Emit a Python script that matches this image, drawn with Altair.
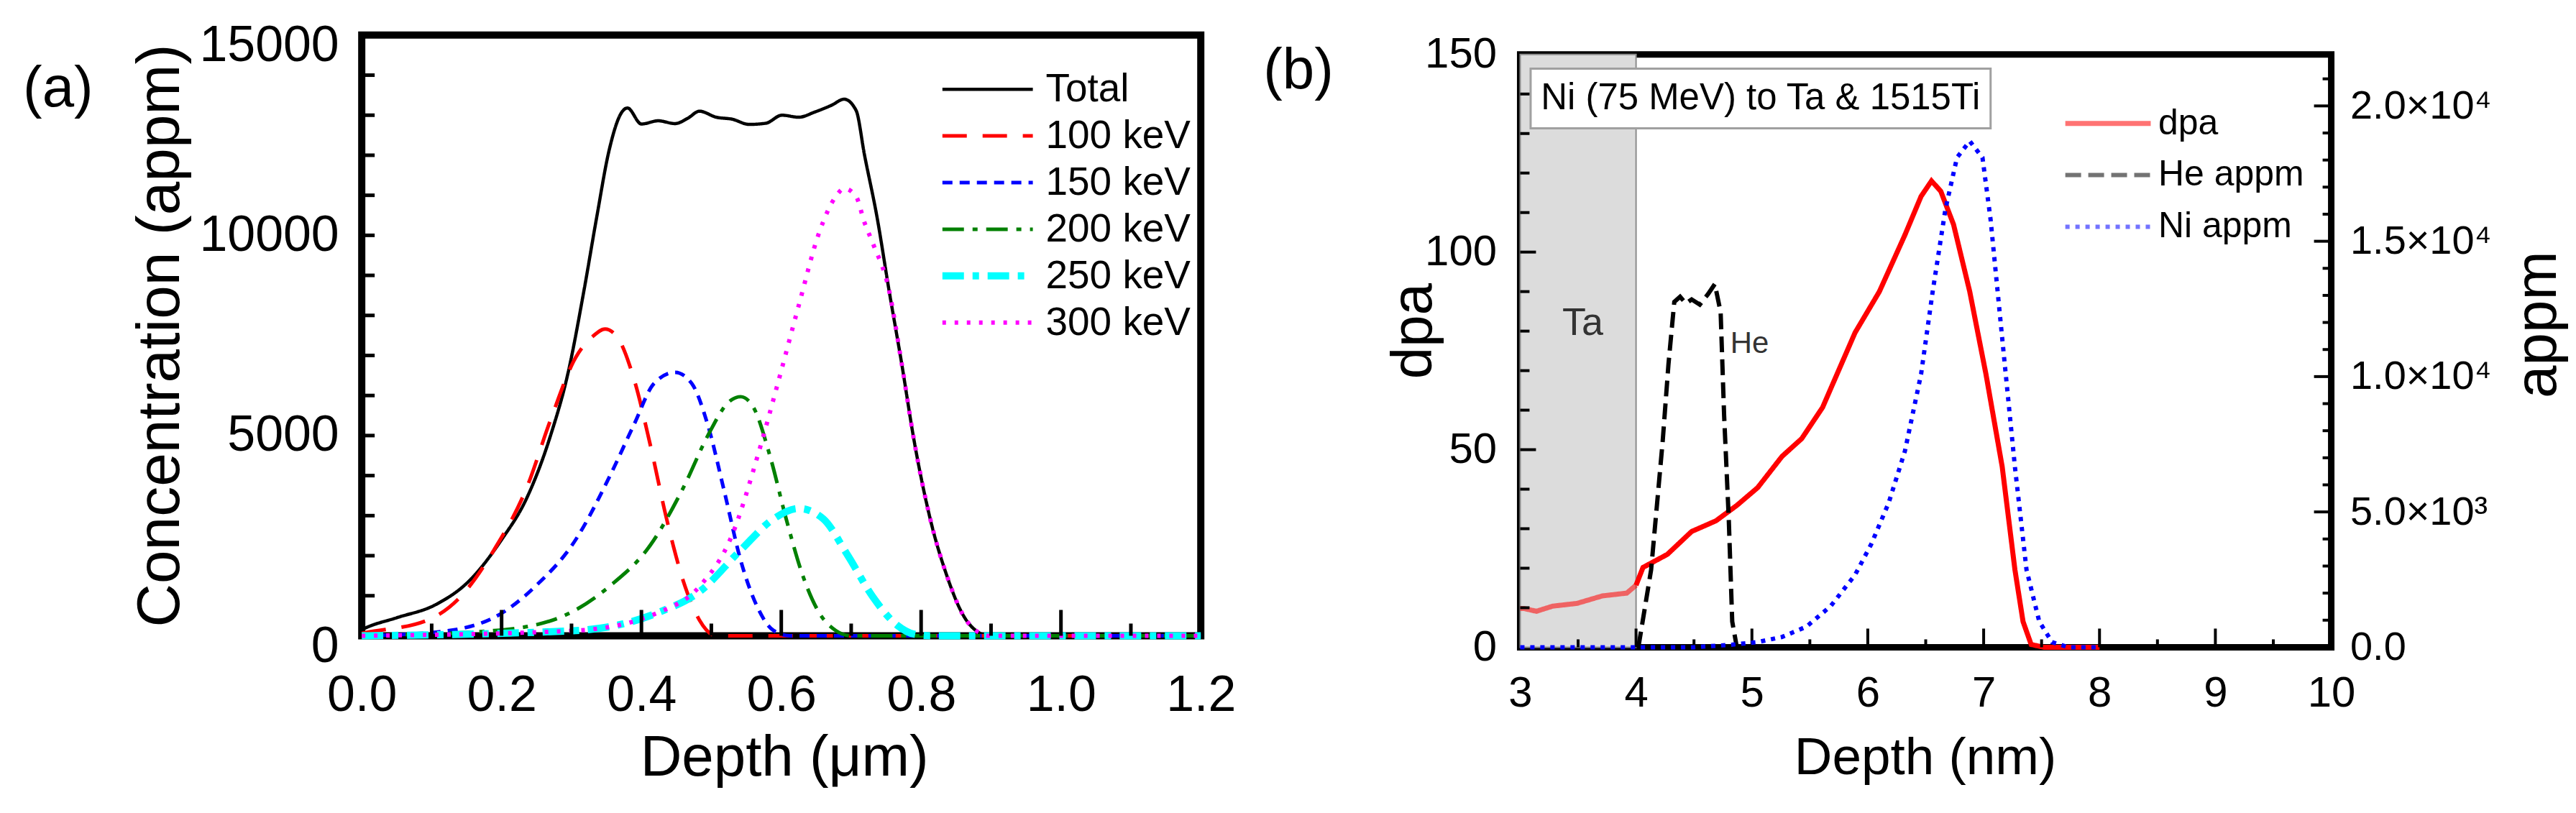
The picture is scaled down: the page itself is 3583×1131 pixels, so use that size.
import altair as alt
import pandas as pd

FONT = "Liberation Sans"

# ---- panel (a): He concentration (appm) vs depth (um) ----
A_SERIES = ["Total", "100 keV", "150 keV", "200 keV", "250 keV", "300 keV"]
A_COLORS = ["#000000", "#ff0000", "#0000ff", "#008000", "#00ffff", "#ff00ff"]
A_DASHES = [[1, 0], [34, 22], [14, 10], [30, 12, 7, 12], [30, 12, 9, 12], [5, 12]]
A_WIDTHS = [4.5, 5, 5, 5, 10, 6]

TOTAL_X = [0.0, 0.006, 0.05, 0.106, 0.153, 0.2, 0.236, 0.27, 0.295, 0.318, 0.336,
           0.354, 0.371, 0.38, 0.40, 0.424, 0.448, 0.466, 0.483, 0.507, 0.53, 0.554,
           0.578, 0.601, 0.625, 0.648, 0.672, 0.69, 0.707, 0.719, 0.737, 0.754,
           0.772, 0.79, 0.813, 0.837, 0.86, 0.884, 0.896, 1.2]
TOTAL_Y = [150, 200, 450, 780, 1360, 2400, 3440, 5000, 6560, 8640, 10450,
           12140, 13050, 13180, 12780, 12860, 12790, 12920, 13100, 12950, 12900, 12770,
           12800, 13000, 12950, 13080, 13250, 13400, 13120, 12010, 10450, 8640,
           6820, 4870, 2920, 1490, 520, 65, 0, 0]

KEV100_X = [0.0, 0.006, 0.094, 0.141, 0.189, 0.236, 0.27, 0.306, 0.33, 0.348, 0.365,
            0.389, 0.413, 0.436, 0.46, 0.483, 0.507, 1.2]
KEV100_Y = [60, 80, 390, 970, 2140, 3700, 5390, 6950, 7470, 7660, 7470,
            6430, 4740, 2920, 1360, 390, 0, 0]

KEV150_X = [0.0, 0.106, 0.189, 0.248, 0.306, 0.354, 0.389, 0.418, 0.448, 0.472, 0.495,
            0.519, 0.542, 0.566, 0.589, 0.613, 1.2]
KEV150_Y = [0, 90, 455, 1230, 2400, 3960, 5260, 6300, 6580, 6300, 5260,
            3570, 1880, 710, 130, 0, 0]

KEV200_X = [0.0, 0.189, 0.283, 0.354, 0.413, 0.46, 0.495, 0.525, 0.542, 0.56, 0.584,
            0.607, 0.631, 0.654, 0.678, 0.70, 1.2]
KEV200_Y = [0, 130, 455, 1230, 2270, 3700, 5000, 5840, 5970, 5710, 4480,
            2920, 1490, 580, 130, 0, 0]

KEV250_X = [0.0, 0.306, 0.424, 0.483, 0.542, 0.589, 0.625, 0.66, 0.695, 0.731, 0.766,
            0.79, 0.813, 1.2]
KEV250_Y = [0, 130, 580, 1100, 2140, 2920, 3180, 2920, 2010, 970, 260, 40, 0, 0]

KEV300_X = [0.0, 0.306, 0.424, 0.483, 0.53, 0.566, 0.595, 0.625, 0.654, 0.678, 0.69,
            0.707, 0.719, 0.731, 0.754, 0.772, 0.79, 0.813, 0.837, 0.86, 0.884, 0.896, 1.2]
KEV300_Y = [0, 130, 580, 1230, 2530, 4480, 6300, 8250, 10060, 10970, 11170,
            10970, 10320, 9800, 8640, 6820, 4870, 2920, 1490, 520, 65, 0, 0]

A_X_LABELS = [0.0, 0.2, 0.4, 0.6, 0.8, 1.0, 1.2]
A_X_MINOR = [0.1, 0.3, 0.5, 0.7, 0.9, 1.1]
A_Y_LABELS = [0, 5000, 10000, 15000]
A_Y_TICKS = [1000, 2000, 3000, 4000, 5000, 6000, 7000, 8000, 9000, 10000,
             11000, 12000, 13000, 14000]

# ---- panel (b): Ni (75 MeV) to Ta & 1515Ti ----
B_SERIES = ["dpa", "He appm", "Ni appm"]
B_COLORS = ["#ff0000", "#000000", "#0000ff"]
B_DASHES = [[1, 0], [22, 10], [6, 8]]
B_WIDTHS = [7, 6, 6]

DPA_X = [3.0, 3.035, 3.14, 3.28, 3.49, 3.71, 3.92, 4.0, 4.06, 4.27, 4.48, 4.69, 4.87,
         5.05, 5.26, 5.43, 5.61, 5.89, 6.10, 6.32, 6.46, 6.55, 6.63, 6.74, 6.88, 7.02,
         7.16, 7.27, 7.34, 7.41, 7.52, 8.0]
DPA_Y = [9.8, 9.8, 9.1, 10.4, 11.1, 13.0, 13.7, 15.7, 20.2, 23.5, 29.3, 32.0, 35.9,
         40.4, 48.3, 52.8, 60.7, 79.6, 90.0, 104.3, 114.1, 118.0, 115.4, 107.0, 90.0, 69.1,
         45.7, 19.6, 6.5, 0.7, 0, 0]

HE_X = [4.02, 4.13, 4.23, 4.28, 4.33, 4.38, 4.43, 4.48, 4.55, 4.62, 4.68, 4.73, 4.76,
        4.80, 4.83, 4.87]
HE_Y = [0, 2860, 7620, 10470, 12760, 12950, 12700, 12850, 12660, 13040, 13420, 12380,
        8570, 4760, 950, 0]

NI_X = [3.0, 4.5, 4.83, 5.05, 5.26, 5.47, 5.68, 5.89, 6.03, 6.18, 6.32, 6.46, 6.56,
        6.67, 6.77, 6.88, 6.99, 7.06, 7.16, 7.27, 7.37, 7.48, 7.59, 7.73, 8.0]
NI_Y = [0, 0, 95, 190, 380, 760, 1520, 2670, 3810, 5330, 7240, 10090, 13140,
        16180, 18090, 18700, 18090, 15800, 11420, 6660, 2860, 950, 190, 0, 0]

TA_REGION = {"x0": [3.0], "x1": [4.0], "y0": [0], "y1": [150]}
NOTE = "Ni (75 MeV) to Ta & 1515Ti"
NOTE_BOX = {"x0": [3.09], "x1": [7.06], "y0": [131.3], "y1": [146.4]}
NOTE_POS = {"x": [5.075], "y": [138.8]}
LAYER_LABELS = {"label": ["Ta", "He"], "x": [3.54, 4.98], "y": [82, 76.8], "size": [54, 42]}

B_X_LABELS = [3, 4, 5, 6, 7, 8, 9, 10]
B_X_MINOR = [3.5, 4.5, 5.5, 6.5, 7.5, 8.5, 9.5]
B_L_LABELS = [0, 50, 100, 150]
B_L_MINOR = [10, 20, 30, 40, 60, 70, 80, 90, 110, 120, 130, 140]
B_R_LABELS = [0, 5000, 10000, 15000, 20000]
B_R_MINOR = [1000, 2000, 3000, 4000, 6000, 7000, 8000, 9000, 11000, 12000, 13000,
             14000, 16000, 17000, 18000, 19000, 21000]

A_W, A_H = 1169, 837
B_W, B_H = 1130, 826


def axis(**kw):
    base = dict(labelFont=FONT, titleFont=FONT, labelColor="black", titleColor="black",
                titleFontWeight="normal", grid=False, domain=False, ticks=False, tickSize=0,
                labelFlush=False, labelOverlap=False, labelLimit=500,
                labelBaseline="middle", titleBaseline="middle")
    base.update(kw)
    return alt.Axis(**base)


def x_ticks(values, scale, ax, h, length, width):
    return alt.Chart(pd.DataFrame({"v": values})).mark_rule(
        color="black", strokeWidth=width).encode(
        x=alt.X("v:Q", scale=scale, axis=ax),
        y=alt.value(h), y2=alt.value(h - length))


def y_ticks(values, scale, ax, x0, length, width):
    return alt.Chart(pd.DataFrame({"v": values})).mark_rule(
        color="black", strokeWidth=width).encode(
        y=alt.Y("v:Q", scale=scale, axis=ax),
        x=alt.value(x0), x2=alt.value(x0 + length))


def panel_title(text, dx, dy):
    return alt.TitleParams(text, anchor="start", frame="group", orient="top", align="center",
                           baseline="middle", dx=dx, dy=dy, offset=0, fontSize=80,
                           font=FONT, fontWeight="normal", color="black")


# ---------------- panel (a) ----------------
a_x = alt.Scale(domain=[0, 1.2], nice=False, zero=False)
a_y = alt.Scale(domain=[0, 15000], nice=False)
a_xaxis = axis(values=A_X_LABELS, format=".1f", labelFontSize=70, labelPadding=83,
               title="Depth (μm)", titleFontSize=80, titleX=A_W / 2 + 4, titleY=170)
a_yaxis = axis(values=A_Y_LABELS, format="d", labelFontSize=70, labelPadding=32,
               labelOffset={"condition": {"test": "datum.value == 0 || datum.value == 15000",
                                          "value": 15}, "value": 0},
               title="Concentration (appm)", titleFontSize=84, titleX=-280, titleY=A_H / 2)

a_xs = [TOTAL_X, KEV100_X, KEV150_X, KEV200_X, KEV250_X, KEV300_X]
a_ys = [TOTAL_Y, KEV100_Y, KEV150_Y, KEV200_Y, KEV250_Y, KEV300_Y]
a_df = pd.concat([pd.DataFrame({"depth": xs, "conc": ys, "series": name})
                  for name, xs, ys in zip(A_SERIES, a_xs, a_ys)])

leg_a = alt.Legend(title=None, orient="none", legendX=804, legendY=48, padding=0,
                   labelFont=FONT, labelFontSize=55, labelColor="black", labelLimit=500,
                   symbolType="stroke", symbolSize=15876, clipHeight=55, rowPadding=9,
                   labelOffset=13)

a_lines = alt.Chart(a_df).mark_line(interpolate="monotone").encode(
    x=alt.X("depth:Q", scale=a_x, axis=a_xaxis),
    y=alt.Y("conc:Q", scale=a_y, axis=a_yaxis),
    color=alt.Color("series:N", scale=alt.Scale(domain=A_SERIES, range=A_COLORS), legend=leg_a),
    strokeDash=alt.StrokeDash("series:N", scale=alt.Scale(domain=A_SERIES, range=A_DASHES),
                              legend=leg_a),
    strokeWidth=alt.StrokeWidth("series:N", legend=leg_a,
                                scale=alt.Scale(type="ordinal", domain=A_SERIES, range=A_WIDTHS)),
)

panel_a = alt.layer(
    a_lines,
    x_ticks(A_X_LABELS[1:-1], a_x, a_xaxis, A_H, 36, 5),
    x_ticks(A_X_MINOR, a_x, a_xaxis, A_H, 17, 5),
    y_ticks(A_Y_TICKS, a_y, a_yaxis, 0, 18, 5),
).properties(
    width=A_W, height=A_H,
    view=alt.ViewBackground(stroke="black", strokeWidth=10),
    title=panel_title("(a)", -423, 175),
)

# ---------------- panel (b) ----------------
b_x = alt.Scale(domain=[3, 10], nice=False, zero=False)
b_l = alt.Scale(domain=[0, 150], nice=False)
b_r = alt.Scale(domain=[0, 21900], nice=False)

leg_b = alt.Legend(title=None, orient="none", legendX=756, legendY=98, padding=0,
                   labelFont=FONT, labelFontSize=50, labelColor="black", labelLimit=500,
                   symbolType="stroke", symbolSize=14161, clipHeight=50, rowPadding=22,
                   labelOffset=7)
b_color = alt.Color("series:N", scale=alt.Scale(domain=B_SERIES, range=B_COLORS), legend=leg_b)
b_dash = alt.StrokeDash("series:N", scale=alt.Scale(domain=B_SERIES, range=B_DASHES), legend=leg_b)
b_width = alt.StrokeWidth("series:N", legend=leg_b,
                          scale=alt.Scale(type="ordinal", domain=B_SERIES, range=B_WIDTHS))

b_xaxis = axis(values=B_X_LABELS, format="d", labelFontSize=60, labelPadding=64,
               title="Depth (nm)", titleFontSize=73, titleX=564, titleY=154)
b_laxis = axis(values=B_L_LABELS, format="d", labelFontSize=60, labelPadding=33,
               title="dpa", titleFontSize=80, titleX=-148, titleY=385)
b_raxis = axis(orient="right", values=B_R_LABELS, labelFontSize=56, labelPadding=26,
               labelExpr="datum.value == 0 ? '0.0' : datum.value >= 10000 ? "
                         "format(datum.value / 10000, '.1f') + '×10⁴' : "
                         "format(datum.value / 1000, '.1f') + '×10³'",
               title="appm", titleFontSize=82, titleAngle=270, titleX=287, titleY=376)

dpa_df = pd.DataFrame({"depth": DPA_X, "dpa": DPA_Y, "series": "dpa"})
he_df = pd.DataFrame({"depth": HE_X, "appm": HE_Y, "series": "He appm"})
ni_df = pd.DataFrame({"depth": NI_X, "appm": NI_Y, "series": "Ni appm"})

ta_rect = alt.Chart(pd.DataFrame(TA_REGION)).mark_rect(
    fill="#dcdcdc", stroke="#8c8c8c", strokeWidth=2).encode(
    x=alt.X("x0:Q", scale=b_x, axis=b_xaxis), x2="x1:Q",
    y=alt.Y("y0:Q", scale=b_l, axis=b_laxis), y2="y1:Q")

note_box = alt.Chart(pd.DataFrame(NOTE_BOX)).mark_rect(
    fill="white", stroke="#a0a0a0", strokeWidth=3).encode(
    x=alt.X("x0:Q", scale=b_x, axis=b_xaxis), x2="x1:Q",
    y=alt.Y("y0:Q", scale=b_l, axis=b_laxis), y2="y1:Q")

note_text = alt.Chart(pd.DataFrame(NOTE_POS)).mark_text(
    text=NOTE, font=FONT, fontSize=51, color="black", align="center", baseline="middle").encode(
    x=alt.X("x:Q", scale=b_x, axis=b_xaxis), y=alt.Y("y:Q", scale=b_l, axis=b_laxis))

layer_text = alt.Chart(pd.DataFrame(LAYER_LABELS)).mark_text(
    font=FONT, color="#333333", align="center", baseline="middle").encode(
    x=alt.X("x:Q", scale=b_x, axis=b_xaxis), y=alt.Y("y:Q", scale=b_l, axis=b_laxis),
    text="label:N", size=alt.Size("size:Q", scale=None, legend=None))

dpa_base = alt.Chart(dpa_df).encode(
    x=alt.X("depth:Q", scale=b_x, axis=b_xaxis),
    y=alt.Y("dpa:Q", scale=b_l, axis=b_laxis),
    color=b_color, strokeDash=b_dash, strokeWidth=b_width)
dpa_ta = dpa_base.mark_line(opacity=0.55).transform_filter("datum.depth <= 4")
dpa_main = dpa_base.mark_line().transform_filter("datum.depth >= 4")

left = alt.layer(
    ta_rect, note_box, note_text, layer_text, dpa_ta, dpa_main,
    x_ticks(B_X_LABELS[1:-1], b_x, b_xaxis, B_H, 26, 4),
    x_ticks(B_X_MINOR, b_x, b_xaxis, B_H, 11, 4),
    y_ticks([50, 100], b_l, b_laxis, 0, 22, 4),
    y_ticks(B_L_MINOR, b_l, b_laxis, 0, 13, 4),
)

appm_lines = alt.Chart(pd.concat([he_df, ni_df])).mark_line().encode(
    x=alt.X("depth:Q", scale=b_x, axis=b_xaxis),
    y=alt.Y("appm:Q", scale=b_r, axis=b_raxis),
    color=b_color, strokeDash=b_dash, strokeWidth=b_width)

right = alt.layer(
    appm_lines,
    y_ticks(B_R_LABELS[1:], b_r, b_raxis, B_W, -24, 4),
    y_ticks(B_R_MINOR, b_r, b_raxis, B_W, -12, 4),
)

panel_b = alt.layer(left, right).resolve_scale(y="independent").properties(
    width=B_W, height=B_H,
    view=alt.ViewBackground(stroke="black", strokeWidth=9),
    title=panel_title("(b)", -309, 133),
)

spacer = alt.Chart(pd.DataFrame({"k": [0]})).mark_point(opacity=0).encode(
    x=alt.value(0), y=alt.value(0)).properties(width=B_W, height=27)

chart = alt.hconcat(
    panel_a,
    alt.vconcat(spacer, panel_b, spacing=0, bounds="flush"),
    spacing=445, bounds="flush",
).resolve_scale(
    color="independent", strokeDash="independent", strokeWidth="independent",
).resolve_legend(
    color="independent", strokeDash="independent", strokeWidth="independent",
).properties(
    padding={"left": 19, "top": 15, "right": 0, "bottom": 0},
).configure_view(strokeWidth=0)

chart.save("out.html", embed_options={"renderer": "svg", "actions": False})
